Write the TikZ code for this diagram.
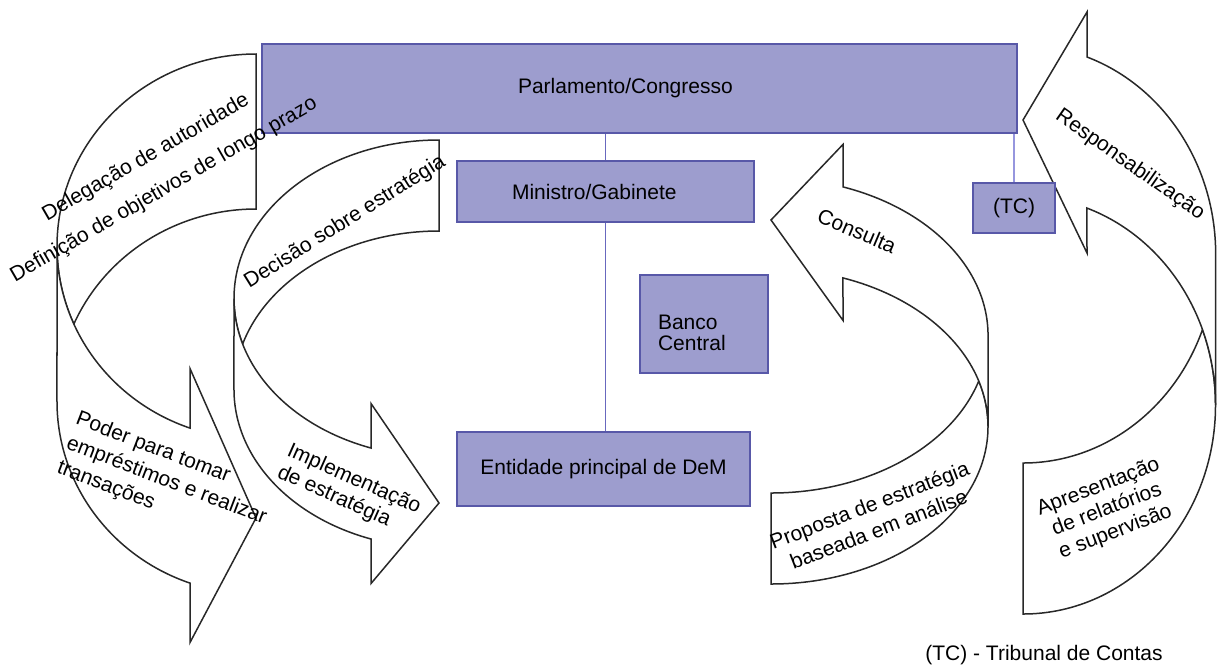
\documentclass[tikz,border=0pt]{standalone}
\usepackage{fontspec}
\setmainfont{Liberation Sans}
\usetikzlibrary{positioning}
\definecolor{boxfill}{RGB}{157,157,206}
\definecolor{boxline}{RGB}{88,88,168}
\definecolor{linkline}{RGB}{104,104,190}
\definecolor{tcline}{RGB}{150,150,222}
\definecolor{bandline}{RGB}{40,40,40}

\begin{document}
\begin{tikzpicture}[
    x=0.5pt,y=-0.5pt,
    org/.style={draw=boxline,fill=boxfill,line width=0.8pt,inner sep=0pt,
      font=\fontsize{10.5}{12}\selectfont},
    band/.style={draw=bandline,fill=white,line width=0.75pt,line join=miter},
    link/.style={draw=linkline,line width=0.7pt},
    lbl/.style={inner sep=0pt,font=\fontsize{10.5}{13}\selectfont}
  ]
    \useasboundingbox (0,0) rectangle (1218,666);

    \draw[band] (57,246.5) arc[start angle=180,end angle=270,x radius=199,y radius=192.5] -- (256,209)
      arc[start angle=270,end angle=203.74,x radius=199,y radius=192.5]
      arc[start angle=156.26,end angle=180,x radius=199,y radius=192.5] -- cycle;
    \draw[band] (57,246.5) arc[start angle=180,end angle=109.37,x radius=199,y radius=192.5]
      -- (190,368.5) -- (256,518) -- (190,642.5) -- (190,583.1)
      arc[start angle=109.37,end angle=180,x radius=199,y radius=192.5] -- cycle;

    \draw[band] (234,298.5) arc[start angle=180,end angle=270,x radius=205,y radius=158.5] -- (439,231)
      arc[start angle=270,end angle=196.68,x radius=205,y radius=158.5]
      arc[start angle=163.32,end angle=180,x radius=205,y radius=158.5] -- cycle;
    \draw[band] (234,298.5) arc[start angle=180,end angle=109.37,x radius=205,y radius=158.5]
      -- (371,403.5) -- (439,503) -- (371,583.5) -- (371,539)
      arc[start angle=109.37,end angle=180,x radius=205,y radius=158.5] -- cycle;

    \draw[band] (988,426.5) arc[start angle=0,end angle=90,x radius=217,y radius=157.5] -- (771,493)
      arc[start angle=90,end angle=16.79,x radius=217,y radius=157.5]
      arc[start angle=-16.79,end angle=0,x radius=217,y radius=157.5] -- cycle;
    \draw[band] (988,426.5) arc[start angle=0,end angle=-70.63,x radius=217,y radius=157.5]
      -- (843,320.4) -- (771,220) -- (843,144.4) -- (843,186.9)
      arc[start angle=-70.63,end angle=0,x radius=217,y radius=157.5] -- cycle;

    \draw[band] (1215.5,405.1) arc[start angle=0,end angle=90,x radius=192.5,y radius=208.9] -- (1023,463)
      arc[start angle=90,end angle=21.19,x radius=192.5,y radius=208.9]
      arc[start angle=-21.19,end angle=0,x radius=192.5,y radius=208.9] -- cycle;
    \draw[band] (1215.5,405.1) arc[start angle=0,end angle=-70.63,x radius=192.5,y radius=208.9]
      -- (1087,253) -- (1023,120) -- (1087,12) -- (1087,57)
      arc[start angle=-70.63,end angle=0,x radius=192.5,y radius=208.9] -- cycle;

    \node[org,minimum width=377.5pt,minimum height=44.5pt,inner xsep=128pt,text width=121.5pt,align=left]
      (parl) at (639.5,88.5) {Parlamento/Congresso};
    \node[org,minimum width=148.5pt,minimum height=30.5pt,inner xsep=27.5pt,text width=93.5pt,align=left]
      (ministro) at (605.5,191.5) {Ministro/Gabinete};
    \node[org,minimum width=64pt,minimum height=49pt,inner xsep=9pt,text width=46pt,align=left,
      font=\fontsize{10.5}{10.5}\selectfont] (banco) at (704,324) {\rule{0pt}{16.5pt}Banco\\Central};
    \node[org,minimum width=146.5pt,minimum height=37pt] (entidade) at (603.5,469) {Entidade principal de DeM};
    \node[org,minimum width=41pt,minimum height=25pt] (tc) at (1014,208) {(TC)};
    \draw[link] (ministro.north) -- (ministro.north |- parl.south);
    \draw[link] (ministro.south) -- (ministro.south |- entidade.north);
    \draw[link,draw=tcline] (tc.north) -- (tc.north |- parl.south);

    \node[lbl,rotate=30] (deleg) at (146,158) {Delegação de autoridade};
    \node[lbl,rotate=30] (defin) at (164,190) {Definição de objetivos de longo prazo};
    \node[lbl,rotate=32] (decisao) at (345,222) {Decisão sobre estratégia};
    \node[lbl,rotate=-21,anchor=west,align=left] (poder) at (67,443) {Poder para tomar\\empréstimos e realizar\\transações};
    \node[lbl,rotate=-24,anchor=west,align=left,font=\fontsize{10.5}{12}\selectfont] (implem) at (283,461) {Implementação\\de estratégia};
    \node[lbl,rotate=21,align=center] (proposta) at (874,517) {Proposta de estratégia\\baseada em análise};
    \node[lbl,rotate=-23] (consulta) at (857,231) {Consulta};
    \node[lbl,rotate=-35] (respons) at (1130,165) {Responsabilização};
    \node[lbl,rotate=21,align=center,font=\fontsize{10.5}{12}\selectfont] (apres) at (1107,510) {Apresentação\\de relatórios\\e supervisão};
    \node[lbl] (nota) at (1044,655) {(TC) - Tribunal de Contas};
  \end{tikzpicture}
\end{document}
